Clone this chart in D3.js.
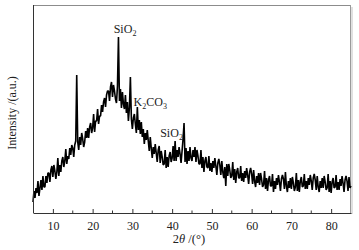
<!DOCTYPE html>
<html>
<head>
<meta charset="utf-8">
<script src="https://cdn.jsdelivr.net/npm/d3@7"></script>
<style>
  body { margin: 0; background: #fff; }
  svg { display: block; }
  text { font-family: "Liberation Serif", "DejaVu Serif", serif; fill: #222; }
</style>
</head>
<body>
<div class="container"></div>
<script>
// XRD scan: start angle, step, and intensities (a.u.)
var startAngle = 5;
var stepAngle = 0.25;
var intensity = [
  11, 22, 15, 25,   20, 32, 17, 25,   33, 23, 37, 26,   26, 37, 30, 40,
  40, 31, 43, 47,   36, 48, 42, 34,   41, 55, 37, 48,   41, 52, 56, 46,
  52, 64, 49, 57,   54, 65, 58, 68,   65, 56, 68, 72,  138, 71, 63, 76,
  68, 80, 74, 66,   71, 82, 75, 85,   75, 86, 90, 80,   85, 99, 81, 92,
  92, 104, 89, 97,  97, 108, 101, 111, 115, 106, 118, 122, 122, 112, 126, 131,
  116, 128, 122, 114, 110, 127, 176, 112, 124, 105, 121, 109, 104, 118, 100, 111,
  92, 105, 136, 94,  84, 95, 99, 89,   80, 106, 83, 93,  79, 91, 76, 84,
  69, 80, 73, 83,   72, 62, 76, 65,   55, 66, 59, 69,   60, 51, 63, 67,
  50, 62, 56, 48,   49, 63, 45, 56,   46, 57, 61, 51,   55, 67, 52, 72,
  52, 63, 56, 66,   59, 50, 62, 74,   90, 51, 65, 49,   62, 52, 66, 55,
  52, 63, 56, 66,   51, 63, 57, 49,   49, 63, 45, 56,   41, 52, 56, 46,
  45, 57, 42, 50,   41, 52, 45, 55,   47, 38, 50, 54,   48, 38, 52, 41,
  35, 46, 27, 49,   37, 49, 43, 35,   37, 51, 33, 44,   30, 41, 45, 35,
  35, 47, 32, 40,   31, 42, 35, 45,   38, 29, 41, 45,   39, 29, 43, 32,
  26, 37, 30, 40,   28, 40, 34, 26,   28, 42, 24, 35,   22, 33, 37, 27,
  27, 39, 21, 32,   24, 35, 28, 38,   31, 22, 34, 38,   34, 24, 41, 27,
  21, 32, 25, 35,   24, 36, 30, 22,   26, 40, 22, 33,   21, 32, 36, 26,
  27, 39, 24, 32,   24, 35, 28, 38,   32, 23, 35, 39,   33, 23, 37, 26,
  21, 32, 25, 35,   25, 37, 31, 23,   25, 39, 21, 32,   20, 31, 35, 25,
  26, 38, 23, 31,   23, 34, 27, 37,   30, 21, 33, 37,   32, 22, 36, 25,
  27
];

var xTicks = [10, 20, 30, 40, 50, 60, 70, 80];
var xMinorTicks = [15, 25, 35, 45, 55, 65, 75];

// peak labels: position (angle, intensity of baseline) and text pieces, 1 = subscript
var peakLabels = [
  { x: 25.3, y: 180, parts: [["SiO", 0], ["2", 1]] },
  { x: 30.3, y: 107, parts: [["K", 0], ["2", 1], ["CO", 0], ["3", 1]] },
  { x: 37.0, y: 76, parts: [["SiO", 0], ["2", 1]] }
];

const WIDTH = 359;
const HEIGHT = 250;
const LEFT = 33, TOP = 5, RIGHT = 351, BOTTOM = 213;

var svg = d3.select('.container').append('svg')
  .attr('width', WIDTH)
  .attr('height', HEIGHT);

var xScale = d3.scaleLinear().domain([5, 85]).range([LEFT, RIGHT]);
var yScale = d3.scaleLinear().domain([0, 208]).range([BOTTOM, TOP]);

// frame: top and right are grey
svg.append('line')
  .attr('x1', LEFT).attr('x2', 350.5).attr('y1', TOP + 0.5).attr('y2', TOP + 0.5)
  .attr('stroke', '#8c8c8c');
svg.append('line')
  .attr('x1', 350.5).attr('x2', 350.5).attr('y1', TOP).attr('y2', BOTTOM)
  .attr('stroke', '#9a9a9a');
svg.append('line')
  .attr('x1', 352).attr('x2', 352).attr('y1', TOP + 2).attr('y2', BOTTOM + 1)
  .attr('stroke', '#d6d6d6').attr('stroke-width', 1.5);

// pattern
var line = d3.line()
  .x(function (v, i) { return xScale(startAngle + i * stepAngle); })
  .y(function (v) { return yScale(v); });

svg.append('path')
  .attr('d', line(intensity))
  .attr('fill', 'none')
  .attr('stroke', '#000')
  .attr('stroke-width', 1.6)
  .attr('stroke-linejoin', 'bevel');

// bottom axis, ticks pointing inward
var xAxis = d3.axisBottom(xScale).tickValues(xTicks).tickSize(-4).tickSizeOuter(0).tickPadding(8);
var gx = svg.append('g')
  .attr('transform', 'translate(0,' + BOTTOM + ')')
  .call(xAxis);
gx.select('.domain').attr('stroke', '#333');
gx.selectAll('.tick line').attr('stroke', '#333');
gx.selectAll('.tick text')
  .attr('font-family', '"Liberation Serif", serif')
  .attr('font-size', 12)
  .attr('fill', '#333');

gx.selectAll('.minor').data(xMinorTicks).enter().append('line')
  .attr('x1', function (d) { return xScale(d); })
  .attr('x2', function (d) { return xScale(d); })
  .attr('y1', 0).attr('y2', -2.5)
  .attr('stroke', '#333');

// left axis line only
svg.append('line')
  .attr('x1', LEFT + 0.5).attr('x2', LEFT + 0.5).attr('y1', TOP).attr('y2', BOTTOM)
  .attr('stroke', '#333');

// axis titles
var xt = svg.append('text')
  .attr('x', 189).attr('y', 243)
  .attr('text-anchor', 'middle')
  .attr('font-size', 12.5);
xt.append('tspan').text('2');
xt.append('tspan').attr('font-style', 'italic').text('θ');
xt.append('tspan').text(' /(°)');

svg.append('text')
  .attr('transform', 'translate(16,113) rotate(-90)')
  .attr('text-anchor', 'middle')
  .attr('font-size', 12)
  .text('Intensity /(a.u.)');

// peak labels
peakLabels.forEach(function (p) {
  var t = svg.append('text')
    .attr('x', xScale(p.x))
    .attr('y', yScale(p.y))
    .attr('font-size', 12);
  var low = false;
  p.parts.forEach(function (part) {
    var sub = part[1] === 1;
    var dy = sub && !low ? 3 : (!sub && low ? -3 : 0);
    t.append('tspan')
      .attr('dy', dy)
      .attr('font-size', sub ? 8 : 12)
      .text(part[0]);
    low = sub;
  });
});
</script>
</body>
</html>
